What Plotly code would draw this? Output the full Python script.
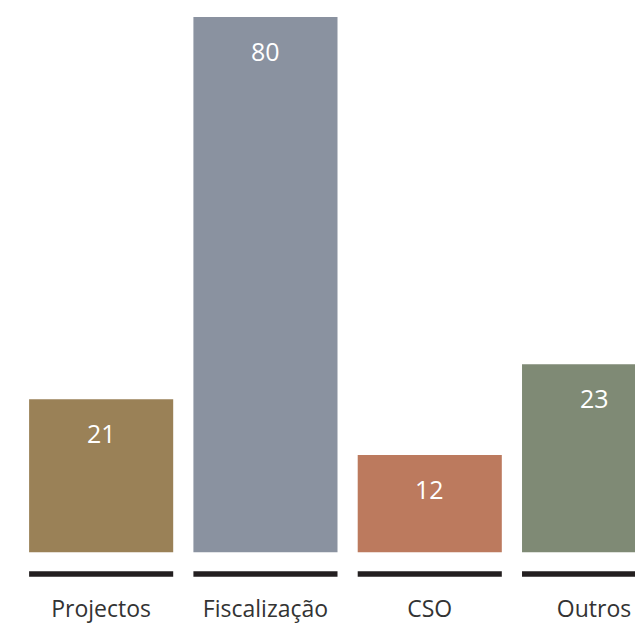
import plotly.graph_objects as go

categories = ["Projectos", "Fiscalização", "CSO", "Outros"]
values = [21, 80, 12, 23]
# bar heights as drawn in the picture (not proportional to the printed values)
bar_heights = [22.86, 80, 14.55, 28.1]
colors = ["#9a8157", "#8a92a0", "#bc7a5e", "#7f8a75"]

fig = go.Figure()

fig.add_trace(go.Bar(
    x=categories,
    y=bar_heights,
    marker=dict(color=colors, line=dict(width=0)),
    hoverinfo="skip",
))

# dark baseline strip under each category
fig.add_trace(go.Bar(
    x=categories,
    y=[0.8] * len(categories),
    base=[-3.65] * len(categories),
    marker=dict(color="#231f20", line=dict(width=0)),
    hoverinfo="skip",
))

for cat, h, v in zip(categories, bar_heights, values):
    fig.add_annotation(
        x=cat, y=h, text=str(v), showarrow=False,
        yanchor="middle", yshift=-34,
        font=dict(family="Open Sans", size=25, color="white"),
    )

# page body has an 8px margin, so the figure is shifted; last bar runs off the right edge
fig.update_layout(
    width=660, height=616,
    margin=dict(l=11, r=0, t=7, b=41),
    barmode="overlay",
    bargap=0.123,
    showlegend=False,
    plot_bgcolor="white",
    paper_bgcolor="white",
    xaxis=dict(
        range=[-0.5, 3.45],
        showgrid=False, zeroline=False, showline=False,
        ticks="", ticklabelstandoff=14,
        tickfont=dict(family="Open Sans", size=23, color="#333333"),
    ),
    yaxis=dict(
        range=[-4, 80.3],
        showgrid=False, zeroline=False, showline=False,
        showticklabels=False,
    ),
)

fig.write_html("out.html")
